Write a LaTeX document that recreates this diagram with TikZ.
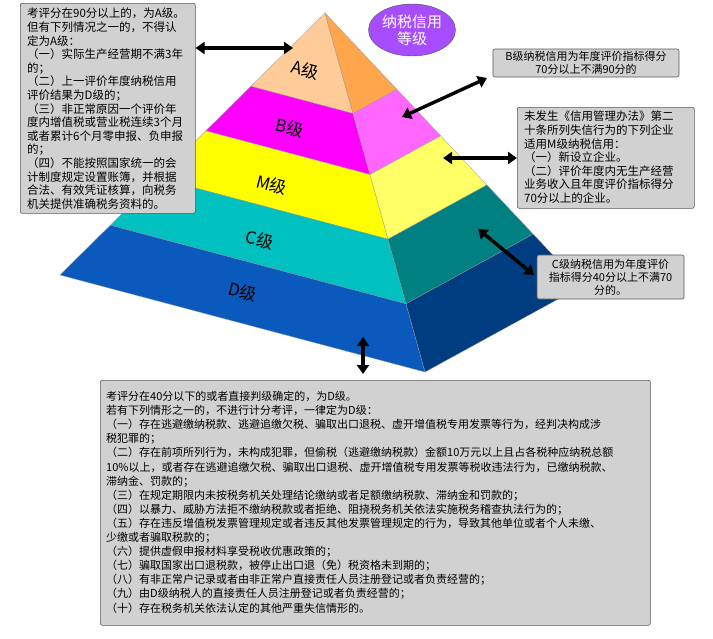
\documentclass[tikz,border=0pt]{standalone}
\usepackage{fontspec}
\setmainfont{Noto Sans CJK SC}
\usetikzlibrary{arrows.meta,calc,shapes.geometric}
\begin{document}
\begin{tikzpicture}[x=1pt,y=-1pt,
  infobox/.style={draw=gray!70!black,fill=black!18,rounded corners=2pt,line width=0.6pt,inner sep=0pt},
  dblarrow/.style={line width=3.4pt,{Triangle[length=9pt,width=12pt]}-{Triangle[length=9pt,width=12pt]}},
  lvl/.style={font=\fontsize{17}{17}\selectfont,rotate=-14},
  edgeline/.style={draw=black!40,line width=0.3pt}]
\useasboundingbox (0,0) rectangle (713,638);
% pyramid geometry
\coordinate (P) at (325,13);
\coordinate (L) at (60,275);
\coordinate (M) at (425,372);
\coordinate (R) at (582,286);
\def\fa{0.28}\def\fb{0.45}\def\fc{0.63}\def\fd{0.81}
\foreach \n/\f in {a/\fa,b/\fb,c/\fc,d/\fd}{
  \coordinate (L\n) at ($(P)!\f!(L)$);
  \coordinate (M\n) at ($(P)!\f!(M)$);
  \coordinate (R\n) at ($(P)!\f!(R)$);
}
% front faces
\fill[fill={rgb,255:red,255;green,204;blue,153},edgeline] (P)--(La)--(Ma)--cycle;
\fill[fill={rgb,255:red,255;green,0;blue,255},edgeline] (La)--(Lb)--(Mb)--(Ma)--cycle;
\fill[fill={rgb,255:red,255;green,255;blue,0},edgeline] (Lb)--(Lc)--(Mc)--(Mb)--cycle;
\fill[fill={rgb,255:red,0;green,192;blue,192},edgeline] (Lc)--(Ld)--(Md)--(Mc)--cycle;
\fill[fill={rgb,255:red,10;green,90;blue,190},edgeline] (Ld)--(L)--(M)--(Md)--cycle;
% right faces
\fill[fill={rgb,255:red,255;green,166;blue,77},edgeline] (P)--(Ma)--(Ra)--cycle;
\fill[fill={rgb,255:red,255;green,102;blue,255},edgeline] (Ma)--(Mb)--(Rb)--(Ra)--cycle;
\fill[fill={rgb,255:red,255;green,255;blue,102},edgeline] (Mb)--(Mc)--(Rc)--(Rb)--cycle;
\fill[fill={rgb,255:red,0;green,128;blue,128},edgeline] (Mc)--(Md)--(Rd)--(Rc)--cycle;
\fill[fill={rgb,255:red,0;green,60;blue,128},edgeline] (Md)--(M)--(R)--(Rd)--cycle;
% level labels
\node[lvl] (la) at (305,70) {A级};
\node[lvl] (lb) at (290,128) {B级};
\node[lvl] (lm) at (272,185) {M级};
\node[lvl] (lc) at (260,240) {C级};
\node[lvl] (ld) at (243,292) {D级};
% title bubble
\node[ellipse,draw=gray!60!black,fill={rgb,255:red,166;green,77;blue,255},minimum width=87pt,minimum height=52pt,inner sep=0pt,text=white,align=center,font=\fontsize{15}{17}\selectfont] (title) at (412,30) {纳税信用\\等级};
% boxes
\node[infobox,anchor=north west,minimum width=175pt,minimum height=210pt] (boxA) at (20,3) {};
\node[anchor=north west,align=left,font=\fontsize{11.5}{13.6}\selectfont,inner sep=0pt] (tA) at (27,8) {考评分在90分以上的，为A级。\\但有下列情况之一的，不得认\\定为A级：\\（一）实际生产经营期不满3年\\的；\\（二）上一评价年度纳税信用\\评价结果为D级的；\\（三）非正常原因一个评价年\\度内增值税或营业税连续3个月\\或者累计6个月零申报、负申报\\的；\\（四）不能按照国家统一的会\\计制度规定设置账簿，并根据\\合法、有效凭证核算，向税务\\机关提供准确税务资料的。};
\node[infobox,minimum width=186pt,minimum height=28pt,align=center,font=\fontsize{11}{13}\selectfont] (boxB) at (586,63) {B级纳税信用为年度评价指标得分\\70分以上不满90分的};
\node[infobox,anchor=north west,minimum width=177pt,minimum height=101pt] (boxM) at (517,107) {};
\node[anchor=north west,align=left,font=\fontsize{11.5}{13.6}\selectfont,inner sep=0pt] (tM) at (524,111) {未发生《信用管理办法》第二\\十条所列失信行为的下列企业\\适用M级纳税信用：\\（一）新设立企业。\\（二）评价年度内无生产经营\\业务收入且年度评价指标得分\\70分以上的企业。};
\node[infobox,minimum width=147pt,minimum height=44pt,align=center,font=\fontsize{11}{13}\selectfont] (boxC) at (610.5,277) {C级纳税信用为年度评价\\指标得分40分以上不满70\\分的。};
\node[infobox,anchor=north west,minimum width=550pt,minimum height=245pt] (boxD) at (100,380) {};
\node[anchor=north west,align=left,font=\fontsize{11}{14.1}\selectfont,inner sep=0pt] (tD) at (106,391) {考评分在40分以下的或者直接判级确定的，为D级。\\若有下列情形之一的，不进行计分考评，一律定为D级：\\（一）存在逃避缴纳税款、逃避追缴欠税、骗取出口退税、虚开增值税专用发票等行为，经判决构成涉\\税犯罪的；\\（二）存在前项所列行为，未构成犯罪，但偷税（逃避缴纳税款）金额10万元以上且占各税种应纳税总额\\10\%以上，或者存在逃避追缴欠税、骗取出口退税、虚开增值税专用发票等税收违法行为，已缴纳税款、\\滞纳金、罚款的；\\（三）在规定期限内未按税务机关处理结论缴纳或者足额缴纳税款、滞纳金和罚款的；\\（四）以暴力、威胁方法拒不缴纳税款或者拒绝、阻挠税务机关依法实施税务稽查执法行为的；\\（五）存在违反增值税发票管理规定或者违反其他发票管理规定的行为，导致其他单位或者个人未缴、\\少缴或者骗取税款的；\\（六）提供虚假申报材料享受税收优惠政策的；\\（七）骗取国家出口退税款，被停止出口退（免）税资格未到期的；\\（八）有非正常户记录或者由非正常户直接责任人员注册登记或者负责经营的；\\（九）由D级纳税人的直接责任人员注册登记或者负责经营的；\\（十）存在税务机关依法认定的其他严重失信情形的。};
% arrows
\coordinate (aA) at (293,48);
\coordinate (aB) at (402,117);
\coordinate (aM) at (443,158);
\coordinate (aC) at (478,229);
\coordinate (aD1) at (363,337);
\coordinate (aD2) at (363,374);
\draw[dblarrow] (boxA.east |- aA) -- (aA);
\draw[dblarrow] (aB) -- (487,78);
\draw[dblarrow] (aM) -- (boxM.west |- aM);
\draw[dblarrow] (aC) -- (534,275);
\draw[dblarrow] (aD1) -- (aD2);
\end{tikzpicture}
\end{document}
